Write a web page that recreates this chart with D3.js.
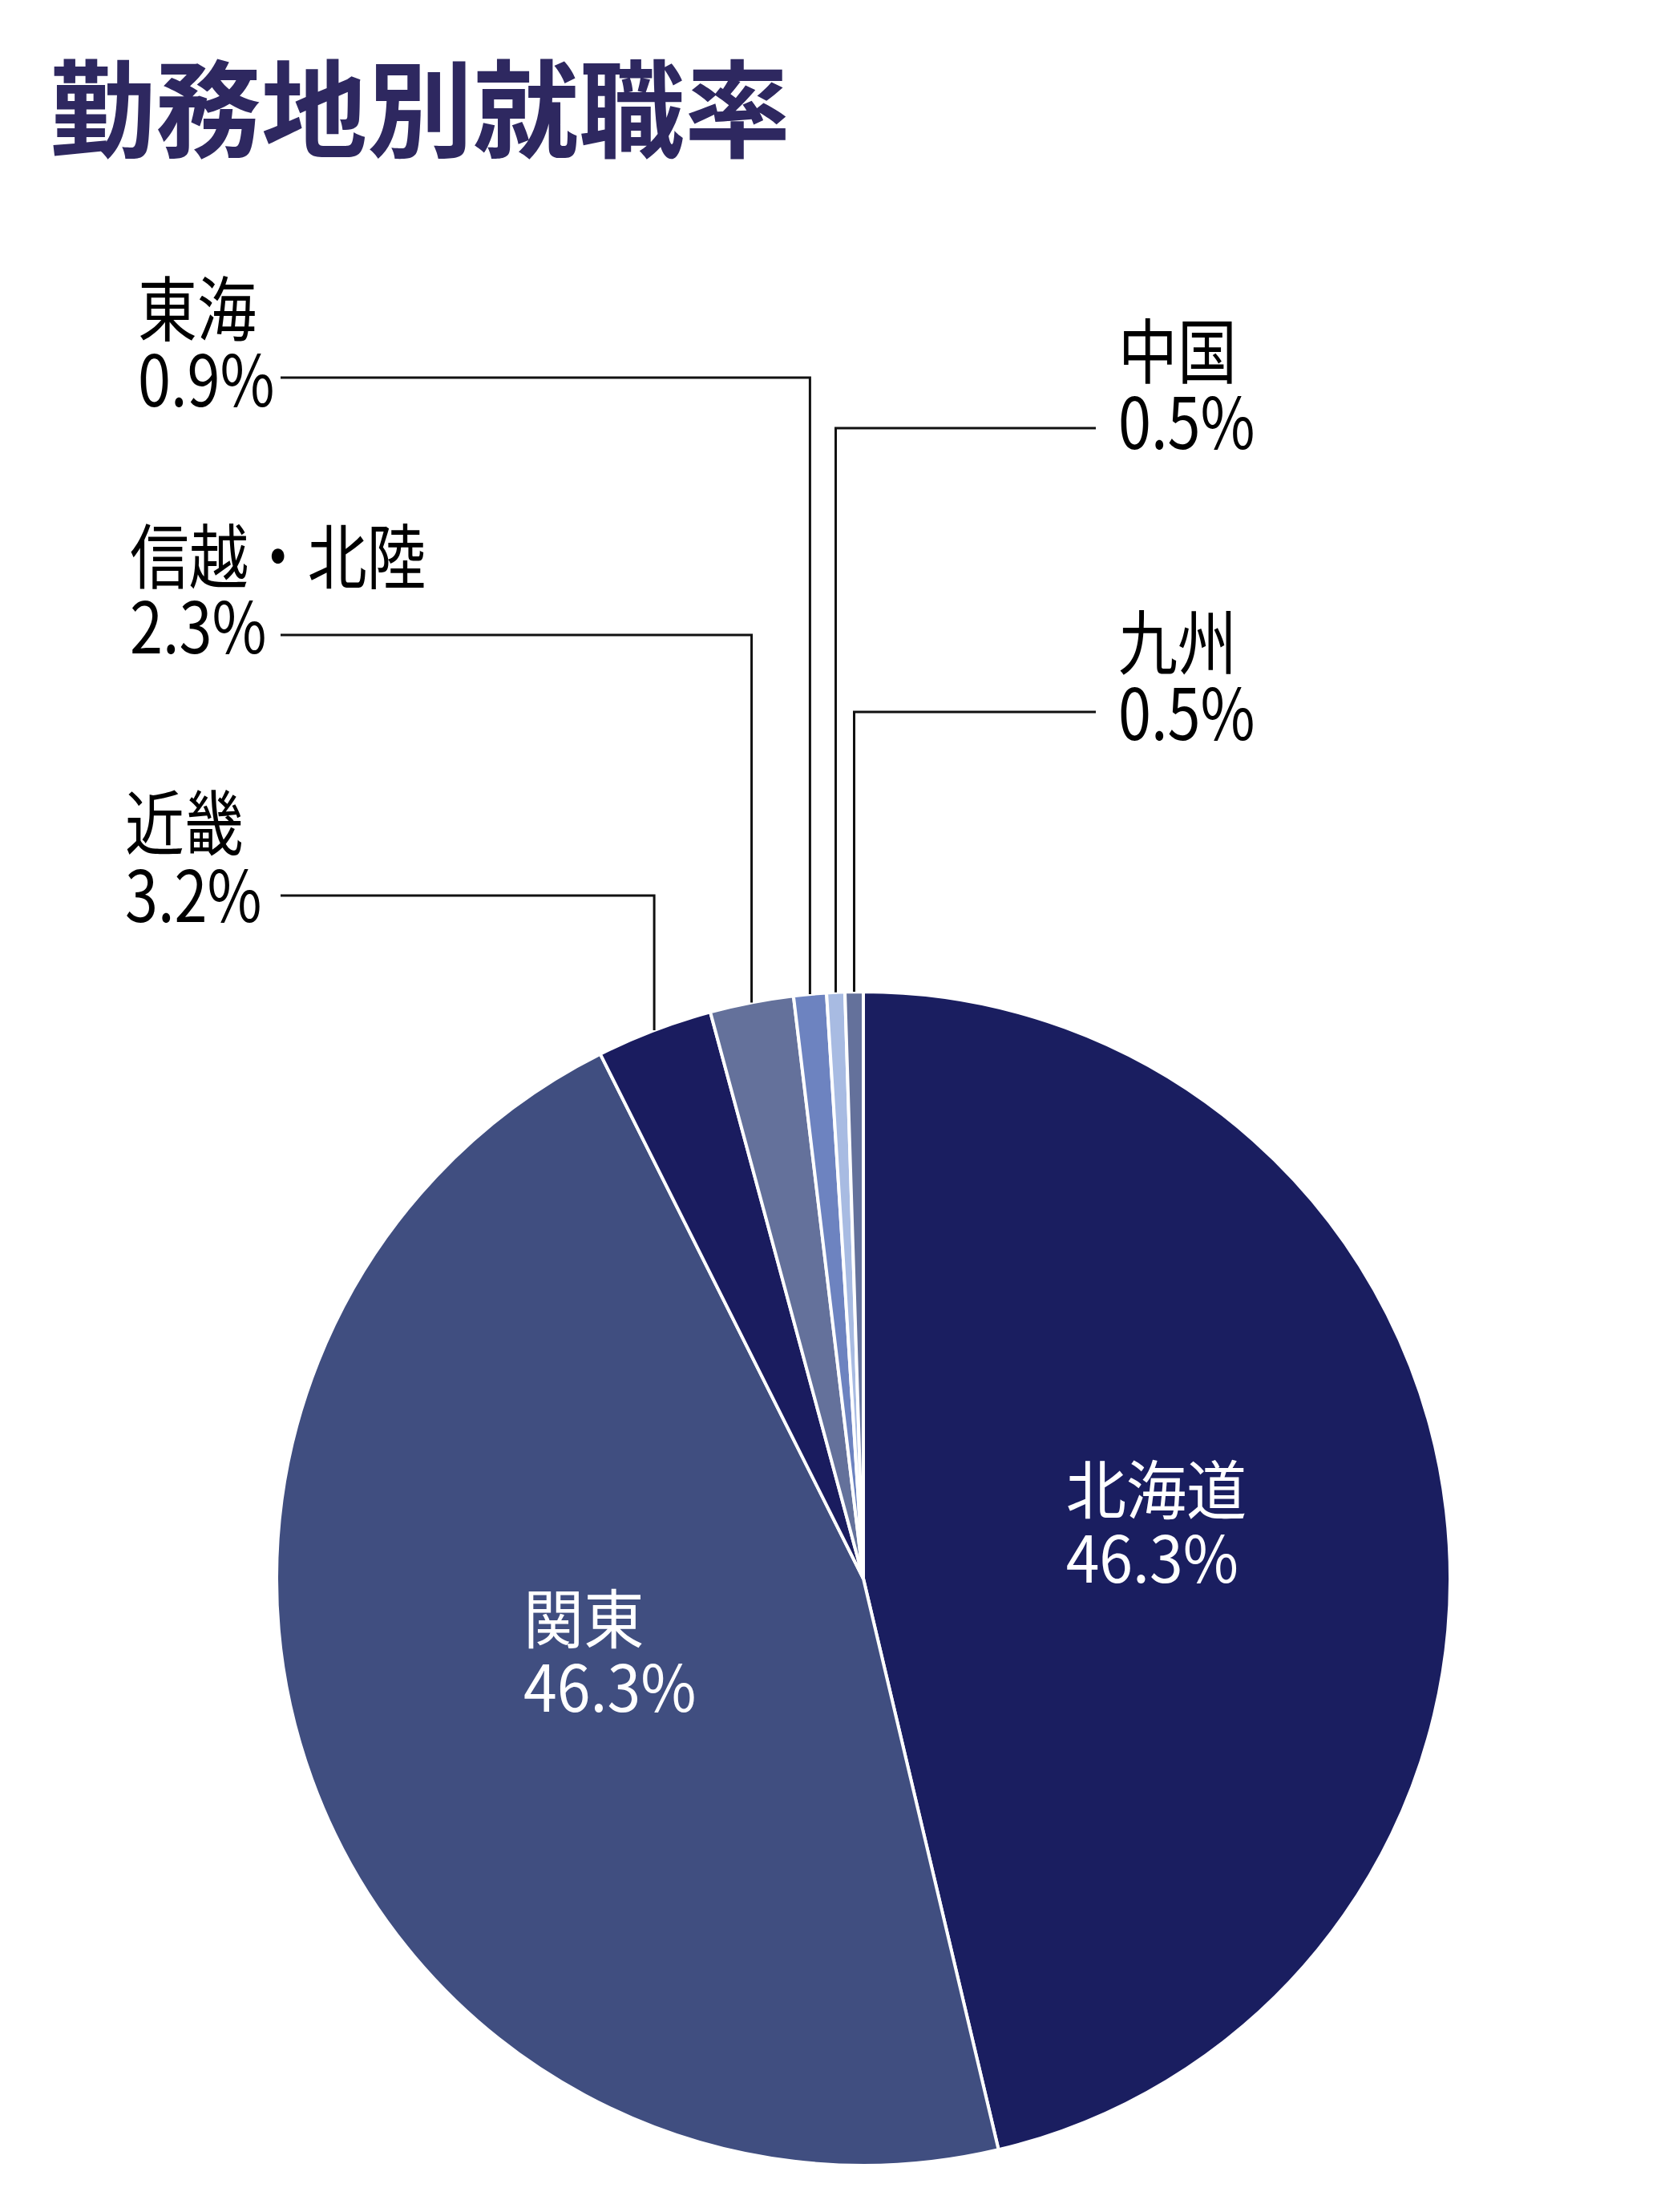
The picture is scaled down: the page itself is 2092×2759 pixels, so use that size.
<!DOCTYPE html>
<html lang="ja">
<head>
<meta charset="utf-8">
<title>勤務地別就職率</title>
<script src="https://cdn.jsdelivr.net/npm/d3@7"></script>
<style>
  html, body { margin: 0; padding: 0; background: #ffffff; }
  svg { display: block; }
  text { font-family: 'Noto Sans CJK JP', 'Noto Sans', sans-serif; }
</style>
</head>
<body>
<script>
// ---- data ----
const chartTitle = "勤務地別就職率";
const categories = ["北海道", "関東", "近畿", "信越・北陸", "東海", "中国", "九州"];
const shares = [46.3, 46.3, 3.2, 2.3, 0.9, 0.5, 0.5];
const sliceColors = ["#1a1e60", "#404e80", "#1a1c5f", "#64719b", "#6d83c0", "#a8bbe2", "#64719b"];
const insideCategories = ["北海道", "関東"];
const outsideCategories = ["東海", "信越・北陸", "近畿", "中国", "九州"];

// ---- layout (positions / styles, kept apart from the data) ----
const W = 2092, H = 2759;
const cx = 1077, cy = 1969, R = 732;
const outsideLayout = {
  "東海":     { side: "left",  textX: 172,  nameY: 418,  numY: 507, lineY: 471 },
  "信越・北陸": { side: "left",  textX: 162,  nameY: 727,  numY: 815, lineY: 792 },
  "近畿":     { side: "left",  textX: 156,  nameY: 1059, numY: 1150, lineY: 1117 },
  "中国":     { side: "right", textX: 1395, nameY: 471,  numY: 560, lineY: 534 },
  "九州":     { side: "right", textX: 1395, nameY: 834,  numY: 923, lineY: 888 }
};
const leftLineStart = 350, rightLineEnd = 1367;

const data = categories.map((c, i) => ({ name: c, value: shares[i], color: sliceColors[i] }));

const svg = d3.select("body").append("svg")
  .attr("width", W).attr("height", H)
  .attr("viewBox", `0 0 ${W} ${H}`);

svg.append("rect").attr("width", W).attr("height", H).attr("fill", "#ffffff");

// title
svg.append("text")
  .attr("x", 62).attr("y", 186)
  .attr("font-size", 132)
  .attr("font-weight", 700)
  .attr("fill", "#2e2860")
  .text(chartTitle);

const pie = d3.pie().sort(null).value(d => d.value);
const arcs = pie(data);
const arc = d3.arc().innerRadius(0).outerRadius(R);
const edgeArc = d3.arc().innerRadius(R).outerRadius(R);
const labelArc = d3.arc().innerRadius(350).outerRadius(350);

const g = svg.append("g").attr("transform", `translate(${cx},${cy})`);

g.selectAll("path.slice")
  .data(arcs)
  .join("path")
  .attr("class", "slice")
  .attr("d", arc)
  .attr("fill", d => d.data.color)
  .attr("stroke", "#ffffff")
  .attr("stroke-width", 4)
  .attr("stroke-linejoin", "miter");

// inside labels
const inside = g.selectAll("g.inlabel")
  .data(arcs.filter(d => insideCategories.includes(d.data.name)))
  .join("g")
  .attr("class", "inlabel")
  .attr("transform", d => {
    const [x, y] = labelArc.centroid(d);
    return `translate(${x - 95},${y}) scale(0.94,1)`;
  });
inside.append("text")
  .attr("x", 0).attr("y", -40)
  .attr("font-size", 80)
  .attr("fill", "#ffffff")
  .text(d => d.data.name);
inside.append("text")
  .attr("x", 0).attr("y", 46)
  .attr("font-size", 80)
  .attr("fill", "#ffffff")
  .text(d => d.data.value.toFixed(1) + "%");

// outside labels with leader lines
const outsideArcs = arcs.filter(d => outsideCategories.includes(d.data.name));

svg.selectAll("path.leader")
  .data(outsideArcs)
  .join("path")
  .attr("class", "leader")
  .attr("fill", "none")
  .attr("stroke", "#111111")
  .attr("stroke-width", 3)
  .attr("d", d => {
    const L = outsideLayout[d.data.name];
    const [ex, ey] = edgeArc.centroid(d);
    const px = cx + ex, py = cy + ey;
    const x0 = L.side === "left" ? leftLineStart : rightLineEnd;
    return `M${x0},${L.lineY}H${px}V${py}`;
  });

const outLabels = svg.selectAll("g.outlabel")
  .data(outsideArcs)
  .join("g")
  .attr("class", "outlabel")
  .attr("transform", d => `translate(${outsideLayout[d.data.name].textX},0) scale(0.84,1)`);
outLabels.append("text")
  .attr("x", 0)
  .attr("y", d => outsideLayout[d.data.name].nameY)
  .attr("font-size", 88)
  .attr("fill", "#000000")
  .text(d => d.data.name);
outLabels.append("text")
  .attr("x", 0)
  .attr("y", d => outsideLayout[d.data.name].numY)
  .attr("font-size", 88)
  .attr("fill", "#000000")
  .text(d => d.data.value.toFixed(1) + "%");
</script>
</body>
</html>
